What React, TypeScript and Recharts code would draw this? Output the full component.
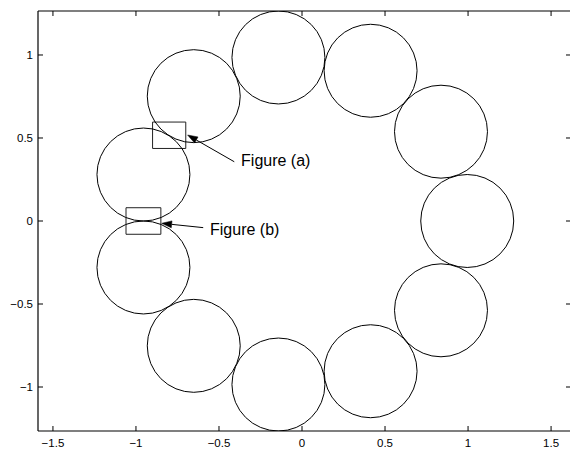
import React from "react";
import { ScatterChart, Scatter, XAxis, YAxis, ReferenceArea, ReferenceLine, ReferenceDot } from "recharts";

// lobe centres and radius
const lobeX = [0.995, 0.837, 0.413, -0.142, -0.652, -0.955, -0.955, -0.652, -0.142, 0.413, 0.837];
const lobeY = [0, 0.538, 0.905, 0.985, 0.752, 0.28, -0.28, -0.752, -0.985, -0.905, -0.538];
const lobeRadius = 0.28;

const xTicks = [-1.5, -1, -0.5, 0, 0.5, 1, 1.5];
const yTicks = [-1, -0.5, 0, 0.5, 1];

// zoom boxes: x1, x2, y1, y2
const boxA = [-0.9, -0.7, 0.437, 0.596];
const boxB = [-1.06, -0.85, -0.08, 0.08];

// arrows: tail then tip
const arrowA = [-0.408, 0.357, -0.689, 0.518];
const arrowB = [-0.595, -0.04, -0.845, -0.014];

const labelText = ["Figure (a)", "Figure (b)"];
const labelX = [-0.367, -0.554];
const labelY = [0.331, -0.084];

const W = 580;
const H = 449;
const X_DOMAIN: [number, number] = [-1.59, 1.62];
const Y_DOMAIN: [number, number] = [-1.265, 1.265];
const MARGIN = { top: 10, right: 8, bottom: 0, left: 0 };
// plot box edges in px
const LEFT = 38;
const RIGHT = W - 8 - 1;
const TOP = 11;
const BOTTOM = H - 18;
const PX = (BOTTOM - TOP) / (Y_DOMAIN[1] - Y_DOMAIN[0]);

const FONT = "'Liberation Sans', Arial, Helvetica, sans-serif";
const TICK = 5;

const lobes = lobeX.map((x, i) => ({ x, y: lobeY[i] }));

const fmt = (v: number) => (v < 0 ? "\u2212" + Math.abs(v) : String(v));

function Lobe(props: any) {
  return <circle cx={props.cx} cy={props.cy} r={lobeRadius * PX} fill="none" stroke="#000" strokeWidth={1} />;
}

function Arrow(props: any) {
  const { x1, y1, x2, y2 } = props;
  const dx = x2 - x1;
  const dy = y2 - y1;
  const len = Math.sqrt(dx * dx + dy * dy) || 1;
  const ux = dx / len;
  const uy = dy / len;
  const hl = 10;
  const hw = 3.5;
  const bx = x2 - ux * hl;
  const by = y2 - uy * hl;
  const pts = `${x2},${y2} ${bx - uy * hw},${by + ux * hw} ${bx + uy * hw},${by - ux * hw}`;
  return (
    <g>
      <line x1={x1} y1={y1} x2={bx} y2={by} stroke="#000" strokeWidth={1} />
      <polygon points={pts} fill="#000" stroke="#000" strokeWidth={0.5} />
    </g>
  );
}

function makeLabel(text: string) {
  return (props: any) => (
    <text x={props.cx} y={props.cy} fontSize={16} fontFamily={FONT} fill="#000">
      {text}
    </text>
  );
}

function BottomTick(props: any) {
  const { x, payload } = props;
  return (
    <g>
      <line x1={x} y1={BOTTOM} x2={x} y2={BOTTOM - TICK} stroke="#000" />
      <text x={x} y={BOTTOM + 16} textAnchor="middle" fontSize={11.5} fontFamily={FONT} fill="#000">
        {fmt(payload.value)}
      </text>
    </g>
  );
}

function TopTick(props: any) {
  const { x } = props;
  return <line x1={x} y1={TOP} x2={x} y2={TOP + TICK} stroke="#000" />;
}

function LeftTick(props: any) {
  const { y, payload } = props;
  return (
    <g>
      <line x1={LEFT} y1={y} x2={LEFT + TICK} y2={y} stroke="#000" />
      <text x={LEFT - 5} y={y + 4} textAnchor="end" fontSize={11.5} fontFamily={FONT} fill="#000">
        {fmt(payload.value)}
      </text>
    </g>
  );
}

function RightTick(props: any) {
  const { y } = props;
  return <line x1={RIGHT} y1={y} x2={RIGHT - TICK} y2={y} stroke="#000" />;
}

const axisLine = { stroke: "#000", strokeWidth: 1.2 };
const tickCfg = { tickLine: false, interval: 0 as const, allowDataOverflow: true };

export default function App() {
  return (
    <div style={{ position: "absolute", left: 0, top: 0, width: 570, height: 449, overflow: "hidden", background: "#fff" }}>
      <ScatterChart width={W} height={H} margin={MARGIN}>
        <XAxis xAxisId="b" type="number" dataKey="x" domain={X_DOMAIN} ticks={xTicks} height={18} tick={<BottomTick />} axisLine={axisLine} {...tickCfg} />
        <XAxis xAxisId="t" orientation="top" type="number" dataKey="x" domain={X_DOMAIN} ticks={xTicks} height={1} tick={<TopTick />} axisLine={axisLine} {...tickCfg} />
        <YAxis yAxisId="l" type="number" dataKey="y" domain={Y_DOMAIN} ticks={yTicks} width={38} tick={<LeftTick />} axisLine={axisLine} {...tickCfg} />
        <YAxis yAxisId="r" orientation="right" type="number" dataKey="y" domain={Y_DOMAIN} ticks={yTicks} width={1} tick={<RightTick />} axisLine={axisLine} {...tickCfg} />
        <Scatter data={lobes} xAxisId="b" yAxisId="l" shape={Lobe} isAnimationActive={false} />
        <ReferenceArea xAxisId="b" yAxisId="l" x1={boxA[0]} x2={boxA[1]} y1={boxA[2]} y2={boxA[3]} fill="none" stroke="#222" strokeWidth={1} />
        <ReferenceArea xAxisId="b" yAxisId="l" x1={boxB[0]} x2={boxB[1]} y1={boxB[2]} y2={boxB[3]} fill="none" stroke="#222" strokeWidth={1} />
        <ReferenceLine
          xAxisId="b"
          yAxisId="l"
          segment={[{ x: arrowA[0], y: arrowA[1] }, { x: arrowA[2], y: arrowA[3] }]}
          shape={Arrow}
        />
        <ReferenceLine
          xAxisId="b"
          yAxisId="l"
          segment={[{ x: arrowB[0], y: arrowB[1] }, { x: arrowB[2], y: arrowB[3] }]}
          shape={Arrow}
        />
        {labelText.map((t, i) => (
          <ReferenceDot key={t} xAxisId="b" yAxisId="l" x={labelX[i]} y={labelY[i]} r={0} shape={makeLabel(t)} />
        ))}
      </ScatterChart>
    </div>
  );
}
